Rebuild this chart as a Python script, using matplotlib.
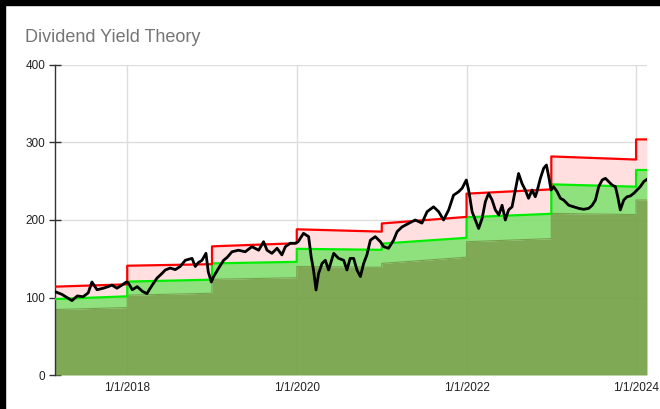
import matplotlib
matplotlib.use('Agg')
import matplotlib.pyplot as plt
import pandas as pd
from matplotlib.patches import Rectangle

plt.rcParams['font.family'] = ['Liberation Sans', 'DejaVu Sans']

# yearly segments of the bands
seg_start = ['2017-02-24', '2018-01-01', '2019-01-01', '2020-01-01',
             '2021-01-01', '2022-01-01', '2023-01-01', '2024-01-01']
seg_end = ['2018-01-01', '2019-01-01', '2020-01-01', '2021-01-01',
           '2022-01-01', '2023-01-01', '2024-01-01', '2024-02-17']

# overvalued line (red)
upper_start = [114, 141, 166, 188, 195.5, 234, 282, 304]
upper_end = [117, 143, 170, 185, 204, 239.5, 278, 304]
# fair value line (green)
mid_start = [98, 120.5, 144, 162.8, 169.5, 203.5, 246, 264.5]
mid_end = [101.5, 123, 146, 161.5, 177, 208, 243, 264.5]
# undervalued floor (dark green area)
low_start = [84.5, 103, 123.5, 140, 144, 172, 208.5, 225.8]
low_end = [87, 105.5, 125.5, 139, 152, 176, 207, 225.8]

# share price
price_dates = [
    '2017-02-24', '2017-03-26', '2017-05-08', '2017-05-31', '2017-06-25', '2017-07-17',
    '2017-08-02', '2017-08-24', '2017-09-20', '2017-10-11', '2017-10-27', '2017-11-18',
    '2017-12-09', '2017-12-28',
    '2018-01-05', '2018-01-23', '2018-02-13', '2018-03-07', '2018-03-27', '2018-04-10',
    '2018-05-09', '2018-05-27', '2018-06-14', '2018-07-05', '2018-07-27', '2018-08-17',
    '2018-09-08', '2018-10-07', '2018-10-21', '2018-11-03', '2018-11-19', '2018-12-06',
    '2018-12-16', '2018-12-29',
    '2019-01-08', '2019-01-29', '2019-02-20', '2019-03-08', '2019-03-28', '2019-04-25',
    '2019-05-24', '2019-06-22', '2019-07-21', '2019-08-11', '2019-08-26', '2019-09-16',
    '2019-10-08', '2019-10-29', '2019-11-13', '2019-12-04', '2019-12-26',
    '2020-01-07', '2020-01-30', '2020-02-21', '2020-03-03', '2020-03-13', '2020-03-24',
    '2020-04-04', '2020-04-19', '2020-05-03', '2020-05-17', '2020-06-08', '2020-06-29',
    '2020-07-21', '2020-08-04', '2020-08-18', '2020-09-02', '2020-09-16', '2020-10-01',
    '2020-10-15', '2020-10-29', '2020-11-13', '2020-12-04', '2020-12-26',
    '2021-01-09', '2021-01-30', '2021-02-21', '2021-03-08', '2021-03-29', '2021-04-27',
    '2021-05-25', '2021-06-23', '2021-07-15', '2021-08-12', '2021-09-03', '2021-09-24',
    '2021-10-16', '2021-11-06', '2021-11-28', '2021-12-13', '2021-12-31',
    '2022-01-10', '2022-01-25', '2022-02-08', '2022-02-22', '2022-03-09', '2022-03-23',
    '2022-04-06', '2022-04-21', '2022-05-05', '2022-05-20', '2022-06-03', '2022-06-17',
    '2022-07-01', '2022-07-16', '2022-07-30', '2022-08-13', '2022-08-28', '2022-09-11',
    '2022-09-25', '2022-10-10', '2022-10-24', '2022-10-31', '2022-11-15', '2022-11-29',
    '2022-12-11', '2022-12-21', '2022-12-31',
    '2023-01-11', '2023-01-26', '2023-02-09', '2023-02-23', '2023-03-17', '2023-04-07',
    '2023-04-29', '2023-05-20', '2023-06-11', '2023-06-26', '2023-07-10', '2023-07-24',
    '2023-08-08', '2023-08-22', '2023-09-05', '2023-09-20', '2023-10-04', '2023-10-14',
    '2023-10-25', '2023-11-09', '2023-11-23', '2023-12-07', '2023-12-22',
    '2024-01-05', '2024-01-19', '2024-02-03', '2024-02-17',
]
price_values = [
    107.5, 104, 96, 102, 101, 106,
    120, 110, 112, 114, 116, 112,
    116, 120,
    119, 110, 114, 108, 105, 112,
    125, 130, 135.5, 138, 136, 140,
    148, 150.5, 140, 145, 148, 157,
    133, 120,
    127, 137.6, 148, 152, 159, 161,
    159, 165.6, 161, 172, 161, 157,
    163.5, 155, 165.6, 170, 170,
    172, 182.8, 178.5, 152.6, 135.5, 109.7,
    131, 144, 148, 135.5, 157, 150.5,
    148, 135.5, 150.5, 150.5, 135.5, 127,
    144, 155, 174, 178.5, 172,
    165.6, 163.5, 174, 185, 191, 195.7,
    200, 196, 210.7, 217, 210.7, 200,
    213, 232, 236.5, 241, 251.6,
    238.7, 210.7, 200, 189, 202, 223.6,
    234.4, 225.8, 213, 206.5, 219, 200,
    213, 217, 238.7, 260, 247, 238.7,
    228, 238.7, 230, 236.5, 253.8, 266.7,
    271, 255.7, 238.7,
    243, 236.5, 228, 225.8, 219, 217,
    215, 213.8, 215, 219, 225.8, 243,
    251.6, 253.8, 249.5, 245, 243, 230,
    213, 225.8, 230, 231, 234.4,
    238.7, 243, 249.5, 252.5,
]


def band(starts, ends):
    xs, ys = [], []
    for s, e, a, b in zip(seg_start, seg_end, starts, ends):
        xs += [s, e]
        ys += [a, b]
    return pd.to_datetime(xs), ys


bx, upper = band(upper_start, upper_end)
_, mid = band(mid_start, mid_end)
_, low = band(low_start, low_end)

fig = plt.figure(figsize=(6.6, 4.09), dpi=100)
ax = fig.add_axes([55 / 660, 34 / 409, 592 / 660, 310 / 409])

ax.fill_between(bx, 0, low, color='#72a042', alpha=0.9, lw=0, zorder=1)
ax.fill_between(bx, low, mid, color='#82de6e', alpha=0.9, lw=0, zorder=1)
ax.fill_between(bx, mid, upper, color='#ffdcdc', alpha=0.9, lw=0, zorder=1)
ax.plot(bx, low, color='#75a24c', lw=0.8, zorder=2)
ax.plot(bx, mid, color='#00ee00', lw=1.6, zorder=3)
ax.plot(bx, upper, color='#ff0000', lw=1.6, zorder=3)
ax.plot(pd.to_datetime(price_dates), price_values, color='black', lw=2.0, zorder=5)

ax.set_xlim(pd.Timestamp(seg_start[0]), pd.Timestamp(seg_end[-1]))
ax.set_ylim(0, 400)
ax.set_yticks([0, 100, 200, 300, 400])
xt = pd.to_datetime(['2018-01-01', '2020-01-01', '2022-01-01', '2024-01-01'])
ax.set_xticks(xt)
ax.set_xticklabels(['1/1/2018', '1/1/2020', '1/1/2022', '1/1/2024'])

ax.set_axisbelow(True)
ax.grid(True, color='#dddddd', lw=1)
for s in ['top', 'right', 'bottom']:
    ax.spines[s].set_visible(False)
ax.spines['left'].set_color('#333333')
ax.spines['left'].set_linewidth(1)
ax.tick_params(axis='y', direction='inout', length=8, width=1, color='#333333',
               labelsize=8.5, labelcolor='#222222', pad=3)
ax.tick_params(axis='x', length=0, labelsize=8.5, labelcolor='#222222', pad=5)

fig.text(25 / 660, 1 - 38 / 409, 'Dividend Yield Theory', fontsize=13,
         color='#757575', va='center', ha='left')

# black frame edges at the top and left
fig.patches.append(Rectangle((0, 1 - 5 / 409), 1, 5 / 409, transform=fig.transFigure,
                             color='black', zorder=10))
fig.patches.append(Rectangle((0, 0), 5 / 660, 1, transform=fig.transFigure,
                             color='black', zorder=10))

fig.savefig('out.png', dpi=100)
plt.close(fig)
